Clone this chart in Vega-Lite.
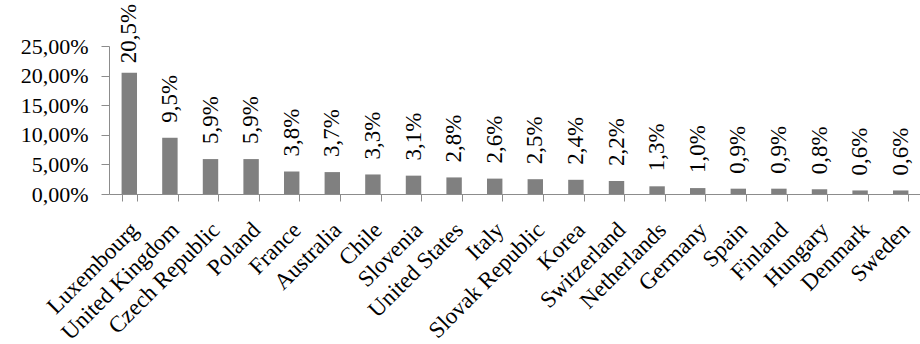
{
  "$schema": "https://vega.github.io/schema/vega-lite/v6.json",
  "autosize": {"type": "none"},
  "padding": {"left": 109, "top": 46, "right": 0, "bottom": 150},
  "width": 812,
  "height": 148,
  "background": "white",
  "config": {
    "locale": {
      "number": {"decimal": ",", "thousands": ".", "grouping": [3], "currency": ["", " €"]}
    },
    "view": {"stroke": null},
    "font": "Liberation Serif",
    "axis": {
      "domainColor": "#8c8c8c",
      "tickColor": "#8c8c8c",
      "grid": false,
      "title": null,
      "labelFont": "Liberation Serif",
      "labelColor": "#000000"
    }
  },
  "data": {
    "values": [
      {"country": "Luxembourg", "share": 0.205},
      {"country": "United Kingdom", "share": 0.095},
      {"country": "Czech Republic", "share": 0.059},
      {"country": "Poland", "share": 0.059},
      {"country": "France", "share": 0.038},
      {"country": "Australia", "share": 0.037},
      {"country": "Chile", "share": 0.033},
      {"country": "Slovenia", "share": 0.031},
      {"country": "United States", "share": 0.028},
      {"country": "Italy", "share": 0.026},
      {"country": "Slovak Republic", "share": 0.025},
      {"country": "Korea", "share": 0.024},
      {"country": "Switzerland", "share": 0.022},
      {"country": "Netherlands", "share": 0.013},
      {"country": "Germany", "share": 0.010},
      {"country": "Spain", "share": 0.009},
      {"country": "Finland", "share": 0.009},
      {"country": "Hungary", "share": 0.008},
      {"country": "Denmark", "share": 0.006},
      {"country": "Sweden", "share": 0.006}
    ]
  },
  "encoding": {
    "x": {
      "field": "country",
      "type": "nominal",
      "sort": null,
      "scale": {"paddingInner": 0.62, "paddingOuter": 0.31},
      "axis": {
        "labelAngle": -45,
        "labelAlign": "right",
        "labelBaseline": "middle",
        "labelFontSize": 23,
        "labelPadding": 25,
        "labelOffset": 5,
        "tickSize": 7,
        "tickBand": "extent",
        "labelOverlap": false
      }
    },
    "y": {
      "field": "share",
      "type": "quantitative",
      "scale": {"domain": [0, 0.25], "nice": false},
      "axis": {
        "values": [0, 0.05, 0.1, 0.15, 0.2, 0.25],
        "format": ".2%",
        "labelFontSize": 22,
        "labelPadding": 13,
        "tickSize": 8
      }
    }
  },
  "layer": [
    {"mark": {"type": "bar", "color": "#808080"}},
    {
      "mark": {
        "type": "text",
        "angle": 270,
        "align": "center",
        "baseline": "middle",
        "dx": 39,
        "fontSize": 23,
        "font": "Liberation Serif",
        "color": "#000000"
      },
      "encoding": {"text": {"field": "share", "type": "quantitative", "format": ".1%"}}
    }
  ]
}
